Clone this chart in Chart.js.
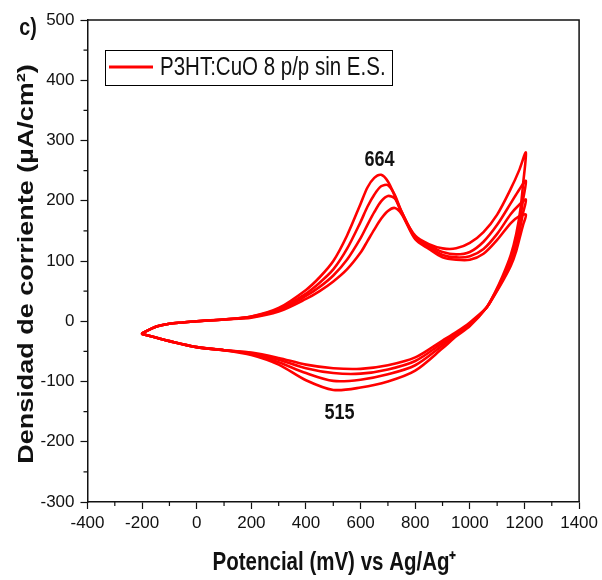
<!DOCTYPE html>
<html>
<head>
<meta charset="utf-8">
<script src="https://cdn.jsdelivr.net/npm/chart.js@4.4.0/dist/chart.umd.min.js"></script>
<style>
  html, body { margin: 0; padding: 0; background: #fff; }
  #wrap { width: 602px; height: 580px; }
</style>
</head>
<body>
<div id="wrap"><canvas id="cv" width="602" height="580"></canvas></div>
<script>
// ---- data (mV, uA/cm2) ----
var seriesLabel = "P3HT:CuO 8 p/p sin E.S.";
var xTitle = "Potencial (mV) vs Ag/Ag\u207A";
var yTitle = "Densidad de corriente (\u00B5A/cm\u00B2)";

var fwdPotential = [-200,-150,-100,-50,0,100,200,300,400,450,500,550,600,625,650,675,700,725,750,800,850,900,950,1000,1050,1100,1150,1180,1205];
var fwdCycle1 = [-20,-9,-4,-2,0,3,8,22,52,73,100,142,195,222,238,243,232,208,180,142,128,121,121,130,148,177,220,250,280];
var fwdCycle2 = [-20,-9,-4,-2,0,3,8,20,46,64,86,120,165,190,210,224,226,210,182,140,126,115,111,115,132,160,196,218,233];
var fwdCycle3 = [-20,-9,-4,-2,0,3,7,18,42,57,76,102,138,160,181,199,208,204,182,138,123,110,106,108,120,145,178,193,202];
var fwdCycle4 = [-20,-9,-4,-2,0,3,6,16,37,50,66,86,114,133,152,170,183,188,178,136,120,106,102,102,112,135,163,174,177];

var revPotential = [1205,1195,1185,1170,1150,1120,1090,1060,1000,950,900,800,700,600,500,400,300,200,100,0,-100,-150,-200];
var revCycle1 = [280,228,185,145,110,75,46,22,-8,-25,-45,-82,-100,-110,-114,-98,-72,-56,-48,-43,-33,-27,-21];
var revCycle2 = [233,202,172,136,104,72,45,22,-6,-22,-40,-73,-88,-97,-99,-86,-68,-54,-48,-43,-33,-27,-21];
var revCycle3 = [202,180,157,126,98,69,44,22,-4,-20,-36,-66,-80,-87,-86,-78,-64,-53,-48,-43,-33,-27,-21];
var revCycle4 = [177,160,143,117,92,66,43,22,-2,-18,-32,-60,-73,-79,-78,-72,-61,-52,-48,-43,-33,-27,-21];

var xTicks = [-400,-200,0,200,400,600,800,1000,1200,1400];
var yTicks = [-300,-200,-100,0,100,200,300,400,500];
var peakLabels = [{x: 669, y: 268, text: "664"}, {x: 523, y: -153, text: "515"}];

var sans = "'Liberation Sans', Arial, sans-serif";
var ink = "#111";
var squeeze = 0.82; // the reference text is narrow

function loop(fy, ry){
  var pts = [];
  for (var i = 0; i < fwdPotential.length; i++) pts.push({x: fwdPotential[i], y: fy[i]});
  for (var j = 1; j < revPotential.length; j++) pts.push({x: revPotential[j], y: ry[j]});
  return pts;
}

function cycleSet(fy, ry){
  return {
    label: seriesLabel,
    data: loop(fy, ry),
    showLine: true,
    borderColor: "#ff0000",
    borderWidth: 2.6,
    pointRadius: 0,
    tension: 0.3,
    borderJoinStyle: "round",
    borderCapStyle: "round"
  };
}

// narrow text: draw at x,y, optionally rotated, squeezed across the glyphs
function narrowText(c, txt, x, y, font, align, rot){
  c.save();
  c.translate(x, y);
  if (rot) { c.rotate(rot); c.scale(1, squeeze); }
  else c.scale(squeeze, 1);
  c.font = font;
  c.textAlign = align;
  c.textBaseline = "middle";
  c.fillText(txt, 0, 0);
  c.restore();
}

// box, minor ticks, legend, titles and labels
var extras = {
  id: "extras",
  afterDraw: function(chart){
    var c = chart.ctx, a = chart.chartArea;
    var xs = chart.scales.x, ys = chart.scales.y;
    c.save();
    c.strokeStyle = ink;
    c.lineWidth = 1.5;
    c.beginPath();
    c.moveTo(a.left, a.top); c.lineTo(a.right, a.top); c.lineTo(a.right, a.bottom);
    c.stroke();

    c.lineWidth = 1.2;
    c.beginPath();
    for (var v = -300; v < 1400; v += 200) {
      var px = xs.getPixelForValue(v);
      c.moveTo(px, a.bottom); c.lineTo(px, a.bottom + 4);
    }
    for (var w = -250; w < 500; w += 100) {
      var py = ys.getPixelForValue(w);
      c.moveTo(a.left, py); c.lineTo(a.left - 4, py);
    }
    c.stroke();

    // legend
    c.lineWidth = 1;
    c.strokeStyle = "#000";
    c.strokeRect(105.5, 50.5, 287, 35);
    c.strokeStyle = "#ff0000";
    c.lineWidth = 3;
    c.beginPath(); c.moveTo(109, 67); c.lineTo(153, 67); c.stroke();
    c.fillStyle = ink;
    narrowText(c, seriesLabel, 160, 68, "25px " + sans, "left");

    peakLabels.forEach(function(p){
      narrowText(c, p.text, xs.getPixelForValue(p.x), ys.getPixelForValue(p.y), "bold 22px " + sans, "center");
    });
    narrowText(c, "c)", 28, 28, "bold 24px " + sans, "center");

    // axis titles
    narrowText(c, xTitle, (a.left + a.right) / 2 + 1, 563, "bold 25px " + sans, "center");
    narrowText(c, yTitle, 27, 264, "bold 27px " + sans, "center", -Math.PI / 2);
    c.restore();
  }
};

new Chart(document.getElementById("cv"), {
  type: "scatter",
  data: {
    datasets: [
      cycleSet(fwdCycle1, revCycle1),
      cycleSet(fwdCycle2, revCycle2),
      cycleSet(fwdCycle3, revCycle3),
      cycleSet(fwdCycle4, revCycle4)
    ]
  },
  options: {
    responsive: false,
    animation: false,
    layout: { padding: { top: 20, right: 22, left: 0, bottom: 0 } },
    plugins: {
      legend: { display: false },
      tooltip: { enabled: false }
    },
    scales: {
      x: {
        type: "linear",
        min: -400, max: 1400,
        afterBuildTicks: function(s){ s.ticks = xTicks.map(function(v){ return {value: v}; }); },
        afterFit: function(s){ s.height = 78; },
        ticks: {
          color: ink, font: { family: sans, size: 17 }, padding: 4, maxRotation: 0,
          callback: function(v){ return String(v); }
        },
        grid: { drawOnChartArea: false, tickLength: 7, tickWidth: 1.2, tickColor: ink },
        border: { color: ink, width: 1.5 },
        title: { display: false }
      },
      y: {
        type: "linear",
        min: -300, max: 500,
        afterBuildTicks: function(s){ s.ticks = yTicks.map(function(v){ return {value: v}; }); },
        afterFit: function(s){ s.width = 87.5; },
        ticks: {
          color: ink, font: { family: sans, size: 17 }, padding: 6,
          callback: function(v){ return String(v); }
        },
        grid: { drawOnChartArea: false, tickLength: 7, tickWidth: 1.2, tickColor: ink },
        border: { color: ink, width: 1.5 },
        title: { display: false }
      }
    }
  },
  plugins: [extras]
});
</script>
</body>
</html>
